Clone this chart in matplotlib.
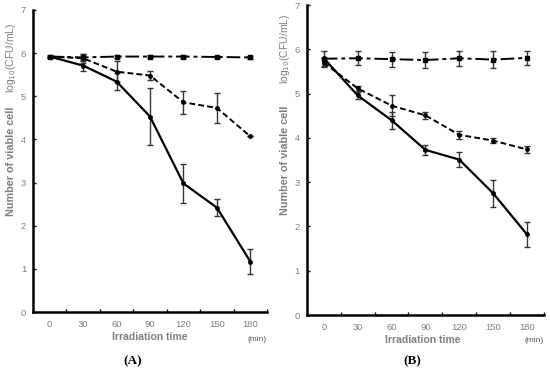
import numpy as np
import matplotlib
matplotlib.use("Agg")
import matplotlib.pyplot as plt

plt.rcParams["font.family"] = ["Liberation Sans", "DejaVu Sans"]

# 照射时间（分类轴）
times = ["0", "30", "60", "90", "120", "150", "180"]

# (A) 数据
a_ctrl = [5.92, 5.90, 5.92, 5.92, 5.92, 5.91, 5.90]
a_ctrl_err = [0.03, 0.08, 0.03, 0.03, 0.03, 0.03, 0.04]
a_dash = [5.92, 5.88, 5.57, 5.48, 4.86, 4.73, 4.07]
a_dash_err = [0.0, 0.11, 0.24, 0.11, 0.27, 0.34, 0.0]
a_solid = [5.92, 5.71, 5.34, 4.53, 2.98, 2.42, 1.17]
a_solid_err = [0.0, 0.13, 0.19, 0.65, 0.45, 0.19, 0.29]

# (B) 数据
b_ctrl = [5.79, 5.80, 5.78, 5.76, 5.80, 5.77, 5.81]
b_ctrl_err = [0.17, 0.16, 0.17, 0.19, 0.17, 0.19, 0.16]
b_dash = [5.70, 5.12, 4.73, 4.51, 4.07, 3.94, 3.74]
b_dash_err = [0.10, 0.05, 0.23, 0.08, 0.09, 0.05, 0.07]
b_solid = [5.80, 4.96, 4.40, 3.73, 3.51, 2.75, 1.82]
b_solid_err = [0.0, 0.08, 0.19, 0.11, 0.17, 0.31, 0.29]

GRAY = "#7f7f7f"


def draw_panel(ax, ctrl, ctrl_err, dash, dash_err, solid, solid_err, tag, pos):
    # pos: 文字位置 (ylab_x, log_y, num_y, xlab_x, xlab_y, min_y, tag_x, tag_y)
    ylab_x, log_y, num_y, xlab_x, xlab_y, min_y, tag_x, tag_y = pos
    x = np.arange(len(times)) + 0.5
    ekw = dict(ecolor="#333333", elinewidth=1.0, capsize=2, capthick=1.0)
    ax.errorbar(x, ctrl, yerr=ctrl_err, color="black", lw=1.4,
                dashes=(7, 2, 2, 2), marker="s", ms=3.5, **ekw)
    ax.errorbar(x, dash, yerr=dash_err, color="black", lw=1.4,
                dashes=(3, 1.6), marker="o", ms=2.5, **ekw)
    ax.errorbar(x, solid, yerr=solid_err, color="black", lw=1.6,
                linestyle="-", marker="o", ms=2.5, **ekw)

    ax.set_xlim(0, 7)
    ax.set_ylim(0, 7)
    ax.set_xticks(np.arange(8))
    ax.set_xticklabels([])
    ax.set_xticks(x, minor=True)
    ax.set_xticklabels(times, minor=True)
    ax.tick_params(axis="x", which="major", direction="in", length=2.5, width=1)
    ax.tick_params(axis="x", which="minor", length=0, pad=5.5,
                   labelsize=6.8, labelcolor=GRAY)
    ax.set_yticks(range(8))
    ax.tick_params(axis="y", direction="in", length=2.5, width=1, pad=5,
                   labelsize=6.8, labelcolor=GRAY)
    for s in ["top", "right"]:
        ax.spines[s].set_visible(False)
    for s in ["left", "bottom"]:
        ax.spines[s].set_linewidth(1.8)

    ax.text(xlab_x, xlab_y, "Irradiation time", transform=ax.transAxes,
            fontsize=7.5, fontweight="bold", color=GRAY, ha="center", va="center")
    ax.text(1.0, min_y, "(min)", transform=ax.transAxes, fontsize=6,
            color="#555555", ha="right", va="center")
    ax.text(tag_x, tag_y, tag, transform=ax.transAxes, fontsize=9.5,
            fontweight="bold", family="Liberation Serif", ha="center", va="center")
    ax.text(ylab_x, log_y, r"log$_{10}$(CFU/mL)", transform=ax.transAxes,
            rotation=90, fontsize=7.5, color=GRAY, ha="center", va="center")
    ax.text(ylab_x, num_y, "Number of viable cell", transform=ax.transAxes,
            rotation=90, fontsize=7.8, fontweight="bold", color=GRAY,
            ha="center", va="center")


fig = plt.figure(figsize=(5.5, 3.68), dpi=100)
axA = fig.add_axes([0.06, 0.152, 0.4255, 0.821])
axB = fig.add_axes([0.558, 0.144, 0.431, 0.842])

draw_panel(axA, a_ctrl, a_ctrl_err, a_dash, a_dash_err, a_solid, a_solid_err, "(A)",
           (-0.095, 0.84, 0.50, 0.498, -0.083, -0.09, 0.427, -0.162))
draw_panel(axB, b_ctrl, b_ctrl_err, b_dash, b_dash_err, b_solid, b_solid_err, "(B)",
           (-0.092, 0.86, 0.50, 0.49, -0.081, -0.081, 0.443, -0.148))

fig.savefig("out.png", dpi=100)
